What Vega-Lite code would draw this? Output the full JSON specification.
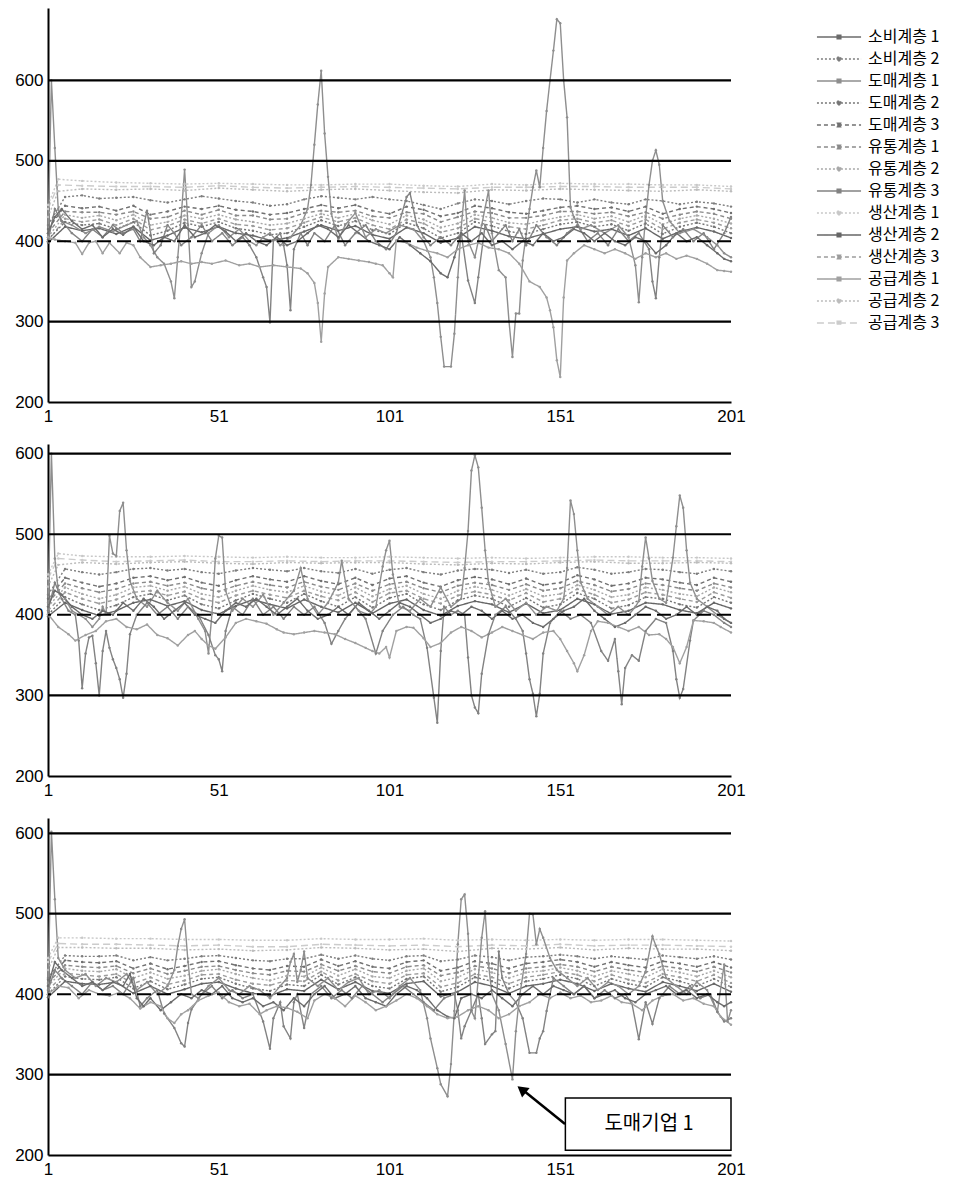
{
"$schema": "https://vega.github.io/schema/vega-lite/v6.json",
"padding": {"left": 14, "top": 8, "right": 5, "bottom": 5},
"background": "white",
"config": {
"font": "Liberation Sans",
"view": {"stroke": null},
"axis": {"domainColor": "#000", "domainWidth": 2, "ticks": false, "grid": false, "labelFont": "Liberation Sans", "labelFontSize": 17, "labelColor": "#000"},
"concat": {"spacing": 20}
},
"datasets": {
"names": [{"s":1,"n":"소비계층 1"},{"s":2,"n":"소비계층 2"},{"s":3,"n":"도매계층 1"},{"s":4,"n":"도매계층 2"},{"s":5,"n":"도매계층 3"},{"s":6,"n":"유통계층 1"},{"s":7,"n":"유통계층 2"},{"s":8,"n":"유통계층 3"},{"s":9,"n":"생산계층 1"},{"s":10,"n":"생산계층 2"},{"s":11,"n":"생산계층 3"},{"s":12,"n":"공급계층 1"},{"s":13,"n":"공급계층 2"},{"s":14,"n":"공급계층 3"}],
"solid": [{"v":300},{"v":500},{"v":600}],
"dash": [{"v":400}],
"box": [{"a":152.5,"b":201,"c":206,"d":271}],
"lab": [{"x":177,"y":238.5,"t":"도매기업 1"}],
"arr": [{"x":152.4,"y":238.5,"x2":140.6,"y2":279}],
"head": [{"x":139.7,"y":281.5}],
"p1": [
{"s":5,"x":1,"y":415},{"s":5,"x":6,"y":444},{"s":5,"x":11,"y":441},{"s":5,"x":16,"y":443},{"s":5,"x":21,"y":438},{"s":5,"x":26,"y":444},{"s":5,"x":31,"y":433},{"s":5,"x":36,"y":437},{"s":5,"x":41,"y":443},{"s":5,"x":46,"y":440},{"s":5,"x":51,"y":444},{"s":5,"x":56,"y":439},{"s":5,"x":61,"y":437},{"s":5,"x":66,"y":433},{"s":5,"x":71,"y":435},{"s":5,"x":76,"y":440},{"s":5,"x":81,"y":445},{"s":5,"x":86,"y":441},{"s":5,"x":91,"y":445},{"s":5,"x":96,"y":438},{"s":5,"x":101,"y":434},{"s":5,"x":106,"y":443},{"s":5,"x":111,"y":439},{"s":5,"x":116,"y":431},{"s":5,"x":121,"y":435},{"s":5,"x":126,"y":444},{"s":5,"x":131,"y":441},{"s":5,"x":136,"y":436},{"s":5,"x":141,"y":434},{"s":5,"x":146,"y":438},{"s":5,"x":151,"y":442},{"s":5,"x":156,"y":444},{"s":5,"x":161,"y":440},{"s":5,"x":166,"y":442},{"s":5,"x":171,"y":437},{"s":5,"x":176,"y":443},{"s":5,"x":181,"y":434},{"s":5,"x":186,"y":440},{"s":5,"x":191,"y":443},{"s":5,"x":196,"y":440},{"s":5,"x":201,"y":435},
{"s":6,"x":1,"y":410},{"s":6,"x":6,"y":437},{"s":6,"x":11,"y":436},{"s":6,"x":16,"y":436},{"s":6,"x":21,"y":433},{"s":6,"x":26,"y":437},{"s":6,"x":31,"y":428},{"s":6,"x":36,"y":430},{"s":6,"x":41,"y":438},{"s":6,"x":46,"y":433},{"s":6,"x":51,"y":439},{"s":6,"x":56,"y":432},{"s":6,"x":61,"y":432},{"s":6,"x":66,"y":427},{"s":6,"x":71,"y":428},{"s":6,"x":76,"y":435},{"s":6,"x":81,"y":438},{"s":6,"x":86,"y":436},{"s":6,"x":91,"y":438},{"s":6,"x":96,"y":431},{"s":6,"x":101,"y":429},{"s":6,"x":106,"y":436},{"s":6,"x":111,"y":434},{"s":6,"x":116,"y":424},{"s":6,"x":121,"y":430},{"s":6,"x":126,"y":437},{"s":6,"x":131,"y":435},{"s":6,"x":136,"y":429},{"s":6,"x":141,"y":429},{"s":6,"x":146,"y":432},{"s":6,"x":151,"y":437},{"s":6,"x":156,"y":437},{"s":6,"x":161,"y":434},{"s":6,"x":166,"y":436},{"s":6,"x":171,"y":431},{"s":6,"x":176,"y":436},{"s":6,"x":181,"y":428},{"s":6,"x":186,"y":433},{"s":6,"x":191,"y":437},{"s":6,"x":196,"y":434},{"s":6,"x":201,"y":428},
{"s":7,"x":1,"y":405},{"s":7,"x":6,"y":433},{"s":7,"x":11,"y":429},{"s":7,"x":16,"y":432},{"s":7,"x":21,"y":426},{"s":7,"x":26,"y":433},{"s":7,"x":31,"y":420},{"s":7,"x":36,"y":424},{"s":7,"x":41,"y":432},{"s":7,"x":46,"y":428},{"s":7,"x":51,"y":433},{"s":7,"x":56,"y":427},{"s":7,"x":61,"y":424},{"s":7,"x":66,"y":420},{"s":7,"x":71,"y":422},{"s":7,"x":76,"y":428},{"s":7,"x":81,"y":434},{"s":7,"x":86,"y":429},{"s":7,"x":91,"y":434},{"s":7,"x":96,"y":426},{"s":7,"x":101,"y":421},{"s":7,"x":106,"y":432},{"s":7,"x":111,"y":427},{"s":7,"x":116,"y":417},{"s":7,"x":121,"y":422},{"s":7,"x":126,"y":433},{"s":7,"x":131,"y":429},{"s":7,"x":136,"y":423},{"s":7,"x":141,"y":421},{"s":7,"x":146,"y":426},{"s":7,"x":151,"y":430},{"s":7,"x":156,"y":433},{"s":7,"x":161,"y":428},{"s":7,"x":166,"y":431},{"s":7,"x":171,"y":424},{"s":7,"x":176,"y":432},{"s":7,"x":181,"y":421},{"s":7,"x":186,"y":428},{"s":7,"x":191,"y":432},{"s":7,"x":196,"y":428},{"s":7,"x":201,"y":422},
{"s":11,"x":1,"y":400},{"s":11,"x":6,"y":428},{"s":11,"x":11,"y":424},{"s":11,"x":16,"y":427},{"s":11,"x":21,"y":420},{"s":11,"x":26,"y":428},{"s":11,"x":31,"y":414},{"s":11,"x":36,"y":419},{"s":11,"x":41,"y":427},{"s":11,"x":46,"y":422},{"s":11,"x":51,"y":428},{"s":11,"x":56,"y":421},{"s":11,"x":61,"y":419},{"s":11,"x":66,"y":414},{"s":11,"x":71,"y":416},{"s":11,"x":76,"y":423},{"s":11,"x":81,"y":430},{"s":11,"x":86,"y":424},{"s":11,"x":91,"y":429},{"s":11,"x":96,"y":420},{"s":11,"x":101,"y":415},{"s":11,"x":106,"y":427},{"s":11,"x":111,"y":422},{"s":11,"x":116,"y":411},{"s":11,"x":121,"y":416},{"s":11,"x":126,"y":428},{"s":11,"x":131,"y":424},{"s":11,"x":136,"y":418},{"s":11,"x":141,"y":415},{"s":11,"x":146,"y":420},{"s":11,"x":151,"y":426},{"s":11,"x":156,"y":428},{"s":11,"x":161,"y":423},{"s":11,"x":166,"y":426},{"s":11,"x":171,"y":419},{"s":11,"x":176,"y":427},{"s":11,"x":181,"y":415},{"s":11,"x":186,"y":423},{"s":11,"x":191,"y":427},{"s":11,"x":196,"y":423},{"s":11,"x":201,"y":416},
{"s":4,"x":1,"y":402},{"s":4,"x":6,"y":424},{"s":4,"x":11,"y":420},{"s":4,"x":16,"y":422},{"s":4,"x":21,"y":415},{"s":4,"x":26,"y":424},{"s":4,"x":31,"y":407},{"s":4,"x":36,"y":413},{"s":4,"x":41,"y":423},{"s":4,"x":46,"y":418},{"s":4,"x":51,"y":424},{"s":4,"x":56,"y":416},{"s":4,"x":61,"y":413},{"s":4,"x":66,"y":408},{"s":4,"x":71,"y":410},{"s":4,"x":76,"y":418},{"s":4,"x":81,"y":426},{"s":4,"x":86,"y":419},{"s":4,"x":91,"y":425},{"s":4,"x":96,"y":414},{"s":4,"x":101,"y":409},{"s":4,"x":106,"y":423},{"s":4,"x":111,"y":416},{"s":4,"x":116,"y":404},{"s":4,"x":121,"y":410},{"s":4,"x":126,"y":424},{"s":4,"x":131,"y":419},{"s":4,"x":136,"y":412},{"s":4,"x":141,"y":409},{"s":4,"x":146,"y":415},{"s":4,"x":151,"y":421},{"s":4,"x":156,"y":424},{"s":4,"x":161,"y":418},{"s":4,"x":166,"y":421},{"s":4,"x":171,"y":413},{"s":4,"x":176,"y":422},{"s":4,"x":181,"y":409},{"s":4,"x":186,"y":418},{"s":4,"x":191,"y":423},{"s":4,"x":196,"y":418},{"s":4,"x":201,"y":410},
{"s":10,"x":1,"y":398},{"s":10,"x":6,"y":418},{"s":10,"x":11,"y":413},{"s":10,"x":16,"y":416},{"s":10,"x":21,"y":409},{"s":10,"x":26,"y":418},{"s":10,"x":31,"y":401},{"s":10,"x":36,"y":407},{"s":10,"x":41,"y":417},{"s":10,"x":46,"y":411},{"s":10,"x":51,"y":418},{"s":10,"x":56,"y":410},{"s":10,"x":61,"y":407},{"s":10,"x":66,"y":401},{"s":10,"x":71,"y":404},{"s":10,"x":76,"y":412},{"s":10,"x":81,"y":420},{"s":10,"x":86,"y":413},{"s":10,"x":91,"y":419},{"s":10,"x":96,"y":408},{"s":10,"x":101,"y":403},{"s":10,"x":106,"y":417},{"s":10,"x":111,"y":410},{"s":10,"x":116,"y":398},{"s":10,"x":121,"y":404},{"s":10,"x":126,"y":418},{"s":10,"x":131,"y":413},{"s":10,"x":136,"y":406},{"s":10,"x":141,"y":403},{"s":10,"x":146,"y":409},{"s":10,"x":151,"y":415},{"s":10,"x":156,"y":418},{"s":10,"x":161,"y":412},{"s":10,"x":166,"y":415},{"s":10,"x":171,"y":407},{"s":10,"x":176,"y":416},{"s":10,"x":181,"y":403},{"s":10,"x":186,"y":412},{"s":10,"x":191,"y":417},{"s":10,"x":196,"y":412},{"s":10,"x":201,"y":404},
{"s":2,"x":1,"y":420},{"s":2,"x":6,"y":455},{"s":2,"x":11,"y":457},{"s":2,"x":16,"y":453},{"s":2,"x":21,"y":454},{"s":2,"x":26,"y":455},{"s":2,"x":31,"y":451},{"s":2,"x":36,"y":448},{"s":2,"x":41,"y":452},{"s":2,"x":46,"y":456},{"s":2,"x":51,"y":453},{"s":2,"x":56,"y":450},{"s":2,"x":61,"y":448},{"s":2,"x":66,"y":444},{"s":2,"x":71,"y":446},{"s":2,"x":76,"y":452},{"s":2,"x":81,"y":456},{"s":2,"x":86,"y":454},{"s":2,"x":91,"y":452},{"s":2,"x":96,"y":455},{"s":2,"x":101,"y":452},{"s":2,"x":106,"y":450},{"s":2,"x":111,"y":445},{"s":2,"x":116,"y":440},{"s":2,"x":121,"y":447},{"s":2,"x":126,"y":452},{"s":2,"x":131,"y":450},{"s":2,"x":136,"y":446},{"s":2,"x":141,"y":450},{"s":2,"x":146,"y":453},{"s":2,"x":151,"y":452},{"s":2,"x":156,"y":448},{"s":2,"x":161,"y":452},{"s":2,"x":166,"y":448},{"s":2,"x":171,"y":446},{"s":2,"x":176,"y":452},{"s":2,"x":181,"y":450},{"s":2,"x":186,"y":446},{"s":2,"x":191,"y":449},{"s":2,"x":196,"y":447},{"s":2,"x":201,"y":443},
{"s":9,"x":1,"y":445},{"s":9,"x":4,"y":477},{"s":9,"x":11,"y":475},{"s":9,"x":21,"y":473},{"s":9,"x":31,"y":472},{"s":9,"x":41,"y":471},{"s":9,"x":51,"y":472},{"s":9,"x":61,"y":471},{"s":9,"x":71,"y":470},{"s":9,"x":81,"y":470},{"s":9,"x":91,"y":471},{"s":9,"x":101,"y":471},{"s":9,"x":111,"y":469},{"s":9,"x":121,"y":468},{"s":9,"x":131,"y":471},{"s":9,"x":141,"y":470},{"s":9,"x":151,"y":472},{"s":9,"x":161,"y":471},{"s":9,"x":171,"y":471},{"s":9,"x":181,"y":470},{"s":9,"x":191,"y":470},{"s":9,"x":201,"y":468},
{"s":14,"x":1,"y":440},{"s":14,"x":4,"y":470},{"s":14,"x":11,"y":469},{"s":14,"x":21,"y":468},{"s":14,"x":31,"y":468},{"s":14,"x":41,"y":467},{"s":14,"x":51,"y":469},{"s":14,"x":61,"y":467},{"s":14,"x":71,"y":466},{"s":14,"x":81,"y":467},{"s":14,"x":91,"y":468},{"s":14,"x":101,"y":467},{"s":14,"x":111,"y":466},{"s":14,"x":121,"y":465},{"s":14,"x":131,"y":467},{"s":14,"x":141,"y":467},{"s":14,"x":151,"y":468},{"s":14,"x":161,"y":468},{"s":14,"x":171,"y":467},{"s":14,"x":181,"y":467},{"s":14,"x":191,"y":467},{"s":14,"x":201,"y":465},
{"s":13,"x":1,"y":430},{"s":13,"x":4,"y":462},{"s":13,"x":11,"y":465},{"s":13,"x":21,"y":464},{"s":13,"x":31,"y":465},{"s":13,"x":41,"y":463},{"s":13,"x":51,"y":466},{"s":13,"x":61,"y":464},{"s":13,"x":71,"y":462},{"s":13,"x":81,"y":464},{"s":13,"x":91,"y":465},{"s":13,"x":101,"y":463},{"s":13,"x":111,"y":461},{"s":13,"x":121,"y":460},{"s":13,"x":131,"y":464},{"s":13,"x":141,"y":463},{"s":13,"x":151,"y":465},{"s":13,"x":161,"y":464},{"s":13,"x":171,"y":463},{"s":13,"x":181,"y":462},{"s":13,"x":191,"y":464},{"s":13,"x":201,"y":462},
{"s":3,"x":1,"y":400},{"s":3,"x":2,"y":600},{"s":3,"x":3,"y":516},{"s":3,"x":4,"y":440},{"s":3,"x":5,"y":425},{"s":3,"x":8,"y":420},{"s":3,"x":12,"y":410},{"s":3,"x":16,"y":418},{"s":3,"x":20,"y":412},{"s":3,"x":24,"y":420},{"s":3,"x":27,"y":425},{"s":3,"x":29,"y":405},{"s":3,"x":31,"y":395},{"s":3,"x":33,"y":380},{"s":3,"x":35,"y":372},{"s":3,"x":37,"y":350},{"s":3,"x":38,"y":329},{"s":3,"x":39,"y":380},{"s":3,"x":40,"y":430},{"s":3,"x":41,"y":489},{"s":3,"x":42,"y":420},{"s":3,"x":43,"y":343},{"s":3,"x":44,"y":350},{"s":3,"x":46,"y":385},{"s":3,"x":48,"y":410},{"s":3,"x":51,"y":420},{"s":3,"x":54,"y":405},{"s":3,"x":57,"y":415},{"s":3,"x":60,"y":400},{"s":3,"x":62,"y":395},{"s":3,"x":64,"y":405},{"s":3,"x":66,"y":410},{"s":3,"x":69,"y":395},{"s":3,"x":72,"y":405},{"s":3,"x":75,"y":420},{"s":3,"x":77,"y":440},{"s":3,"x":78,"y":470},{"s":3,"x":79,"y":520},{"s":3,"x":80,"y":570},{"s":3,"x":81,"y":612},{"s":3,"x":82,"y":534},{"s":3,"x":83,"y":480},{"s":3,"x":84,"y":434},{"s":3,"x":86,"y":401},{"s":3,"x":88,"y":420},{"s":3,"x":91,"y":435},{"s":3,"x":94,"y":405},{"s":3,"x":97,"y":415},{"s":3,"x":100,"y":410},{"s":3,"x":104,"y":420},{"s":3,"x":108,"y":415},{"s":3,"x":111,"y":400},{"s":3,"x":113,"y":380},{"s":3,"x":114,"y":355},{"s":3,"x":115,"y":323},{"s":3,"x":116,"y":281},{"s":3,"x":117,"y":244},{"s":3,"x":119,"y":244},{"s":3,"x":120,"y":285},{"s":3,"x":121,"y":355},{"s":3,"x":122,"y":417},{"s":3,"x":123,"y":463},{"s":3,"x":124,"y":400},{"s":3,"x":126,"y":380},{"s":3,"x":128,"y":420},{"s":3,"x":130,"y":463},{"s":3,"x":131,"y":410},{"s":3,"x":133,"y":364},{"s":3,"x":135,"y":355},{"s":3,"x":136,"y":300},{"s":3,"x":137,"y":256},{"s":3,"x":138,"y":310},{"s":3,"x":139,"y":310},{"s":3,"x":140,"y":376},{"s":3,"x":142,"y":440},{"s":3,"x":143,"y":467},{"s":3,"x":144,"y":488},{"s":3,"x":145,"y":467},{"s":3,"x":146,"y":516},{"s":3,"x":147,"y":562},{"s":3,"x":148,"y":600},{"s":3,"x":149,"y":637},{"s":3,"x":150,"y":676},{"s":3,"x":151,"y":671},{"s":3,"x":152,"y":600},{"s":3,"x":153,"y":554},{"s":3,"x":154,"y":442},{"s":3,"x":155,"y":430},{"s":3,"x":157,"y":415},{"s":3,"x":160,"y":420},{"s":3,"x":164,"y":410},{"s":3,"x":168,"y":420},{"s":3,"x":171,"y":405},{"s":3,"x":173,"y":370},{"s":3,"x":174,"y":324},{"s":3,"x":175,"y":380},{"s":3,"x":176,"y":430},{"s":3,"x":177,"y":470},{"s":3,"x":178,"y":500},{"s":3,"x":179,"y":513},{"s":3,"x":180,"y":495},{"s":3,"x":181,"y":450},{"s":3,"x":183,"y":425},{"s":3,"x":186,"y":410},{"s":3,"x":190,"y":415},{"s":3,"x":194,"y":405},{"s":3,"x":197,"y":395},{"s":3,"x":199,"y":385},{"s":3,"x":201,"y":380},
{"s":8,"x":1,"y":400},{"s":8,"x":3,"y":440},{"s":8,"x":5,"y":425},{"s":8,"x":8,"y":410},{"s":8,"x":11,"y":400},{"s":8,"x":14,"y":415},{"s":8,"x":17,"y":405},{"s":8,"x":20,"y":420},{"s":8,"x":23,"y":410},{"s":8,"x":26,"y":415},{"s":8,"x":28,"y":400},{"s":8,"x":30,"y":438},{"s":8,"x":32,"y":385},{"s":8,"x":34,"y":395},{"s":8,"x":36,"y":420},{"s":8,"x":38,"y":410},{"s":8,"x":40,"y":395},{"s":8,"x":43,"y":405},{"s":8,"x":46,"y":420},{"s":8,"x":49,"y":400},{"s":8,"x":52,"y":410},{"s":8,"x":55,"y":395},{"s":8,"x":58,"y":405},{"s":8,"x":60,"y":395},{"s":8,"x":62,"y":380},{"s":8,"x":64,"y":355},{"s":8,"x":65,"y":343},{"s":8,"x":66,"y":299},{"s":8,"x":67,"y":401},{"s":8,"x":69,"y":410},{"s":8,"x":70,"y":395},{"s":8,"x":71,"y":370},{"s":8,"x":72,"y":314},{"s":8,"x":73,"y":390},{"s":8,"x":75,"y":410},{"s":8,"x":77,"y":395},{"s":8,"x":79,"y":410},{"s":8,"x":82,"y":400},{"s":8,"x":85,"y":420},{"s":8,"x":88,"y":395},{"s":8,"x":91,"y":410},{"s":8,"x":94,"y":420},{"s":8,"x":97,"y":400},{"s":8,"x":100,"y":390},{"s":8,"x":103,"y":410},{"s":8,"x":106,"y":455},{"s":8,"x":107,"y":460},{"s":8,"x":109,"y":420},{"s":8,"x":111,"y":405},{"s":8,"x":113,"y":395},{"s":8,"x":116,"y":405},{"s":8,"x":119,"y":395},{"s":8,"x":122,"y":410},{"s":8,"x":124,"y":351},{"s":8,"x":126,"y":323},{"s":8,"x":127,"y":355},{"s":8,"x":129,"y":420},{"s":8,"x":131,"y":400},{"s":8,"x":133,"y":410},{"s":8,"x":135,"y":420},{"s":8,"x":137,"y":400},{"s":8,"x":139,"y":415},{"s":8,"x":141,"y":395},{"s":8,"x":144,"y":420},{"s":8,"x":147,"y":405},{"s":8,"x":150,"y":395},{"s":8,"x":153,"y":410},{"s":8,"x":156,"y":420},{"s":8,"x":159,"y":400},{"s":8,"x":162,"y":410},{"s":8,"x":165,"y":395},{"s":8,"x":168,"y":415},{"s":8,"x":171,"y":400},{"s":8,"x":174,"y":410},{"s":8,"x":177,"y":390},{"s":8,"x":178,"y":350},{"s":8,"x":179,"y":329},{"s":8,"x":180,"y":380},{"s":8,"x":181,"y":420},{"s":8,"x":184,"y":405},{"s":8,"x":187,"y":415},{"s":8,"x":190,"y":400},{"s":8,"x":193,"y":410},{"s":8,"x":196,"y":390},{"s":8,"x":199,"y":410},{"s":8,"x":201,"y":430},
{"s":1,"x":1,"y":410},{"s":1,"x":3,"y":430},{"s":1,"x":5,"y":440},{"s":1,"x":8,"y":425},{"s":1,"x":11,"y":415},{"s":1,"x":14,"y":420},{"s":1,"x":17,"y":405},{"s":1,"x":20,"y":415},{"s":1,"x":23,"y":408},{"s":1,"x":26,"y":418},{"s":1,"x":29,"y":400},{"s":1,"x":32,"y":395},{"s":1,"x":35,"y":405},{"s":1,"x":38,"y":400},{"s":1,"x":41,"y":420},{"s":1,"x":44,"y":405},{"s":1,"x":47,"y":410},{"s":1,"x":50,"y":420},{"s":1,"x":53,"y":412},{"s":1,"x":56,"y":400},{"s":1,"x":59,"y":410},{"s":1,"x":62,"y":400},{"s":1,"x":65,"y":395},{"s":1,"x":68,"y":405},{"s":1,"x":71,"y":395},{"s":1,"x":74,"y":400},{"s":1,"x":77,"y":410},{"s":1,"x":80,"y":420},{"s":1,"x":83,"y":415},{"s":1,"x":86,"y":405},{"s":1,"x":89,"y":420},{"s":1,"x":92,"y":410},{"s":1,"x":95,"y":400},{"s":1,"x":98,"y":395},{"s":1,"x":101,"y":390},{"s":1,"x":104,"y":405},{"s":1,"x":107,"y":395},{"s":1,"x":110,"y":385},{"s":1,"x":113,"y":375},{"s":1,"x":116,"y":360},{"s":1,"x":118,"y":355},{"s":1,"x":120,"y":380},{"s":1,"x":122,"y":410},{"s":1,"x":125,"y":400},{"s":1,"x":128,"y":410},{"s":1,"x":131,"y":395},{"s":1,"x":134,"y":400},{"s":1,"x":137,"y":390},{"s":1,"x":140,"y":400},{"s":1,"x":143,"y":395},{"s":1,"x":146,"y":410},{"s":1,"x":149,"y":400},{"s":1,"x":152,"y":405},{"s":1,"x":155,"y":415},{"s":1,"x":158,"y":410},{"s":1,"x":161,"y":400},{"s":1,"x":164,"y":410},{"s":1,"x":167,"y":400},{"s":1,"x":170,"y":395},{"s":1,"x":173,"y":405},{"s":1,"x":176,"y":400},{"s":1,"x":179,"y":385},{"s":1,"x":182,"y":395},{"s":1,"x":185,"y":410},{"s":1,"x":188,"y":400},{"s":1,"x":191,"y":405},{"s":1,"x":194,"y":395},{"s":1,"x":197,"y":385},{"s":1,"x":199,"y":378},{"s":1,"x":201,"y":375},
{"s":12,"x":1,"y":405},{"s":12,"x":3,"y":402},{"s":12,"x":6,"y":400},{"s":12,"x":9,"y":398},{"s":12,"x":11,"y":384},{"s":12,"x":13,"y":398},{"s":12,"x":15,"y":400},{"s":12,"x":17,"y":385},{"s":12,"x":19,"y":398},{"s":12,"x":22,"y":385},{"s":12,"x":24,"y":398},{"s":12,"x":26,"y":395},{"s":12,"x":28,"y":380},{"s":12,"x":31,"y":368},{"s":12,"x":34,"y":370},{"s":12,"x":37,"y":372},{"s":12,"x":40,"y":375},{"s":12,"x":43,"y":372},{"s":12,"x":46,"y":374},{"s":12,"x":49,"y":372},{"s":12,"x":53,"y":376},{"s":12,"x":57,"y":370},{"s":12,"x":60,"y":372},{"s":12,"x":63,"y":368},{"s":12,"x":67,"y":370},{"s":12,"x":71,"y":368},{"s":12,"x":75,"y":366},{"s":12,"x":77,"y":360},{"s":12,"x":79,"y":348},{"s":12,"x":80,"y":323},{"s":12,"x":81,"y":275},{"s":12,"x":82,"y":335},{"s":12,"x":83,"y":368},{"s":12,"x":86,"y":380},{"s":12,"x":89,"y":378},{"s":12,"x":92,"y":376},{"s":12,"x":95,"y":374},{"s":12,"x":97,"y":372},{"s":12,"x":99,"y":370},{"s":12,"x":101,"y":360},{"s":12,"x":102,"y":355},{"s":12,"x":103,"y":401},{"s":12,"x":106,"y":398},{"s":12,"x":109,"y":392},{"s":12,"x":112,"y":388},{"s":12,"x":115,"y":385},{"s":12,"x":118,"y":380},{"s":12,"x":121,"y":390},{"s":12,"x":124,"y":395},{"s":12,"x":127,"y":398},{"s":12,"x":130,"y":392},{"s":12,"x":133,"y":390},{"s":12,"x":136,"y":385},{"s":12,"x":139,"y":372},{"s":12,"x":142,"y":350},{"s":12,"x":145,"y":343},{"s":12,"x":147,"y":330},{"s":12,"x":148,"y":314},{"s":12,"x":149,"y":293},{"s":12,"x":150,"y":252},{"s":12,"x":151,"y":231},{"s":12,"x":152,"y":330},{"s":12,"x":153,"y":376},{"s":12,"x":155,"y":385},{"s":12,"x":158,"y":395},{"s":12,"x":161,"y":390},{"s":12,"x":164,"y":385},{"s":12,"x":167,"y":390},{"s":12,"x":170,"y":385},{"s":12,"x":173,"y":378},{"s":12,"x":176,"y":385},{"s":12,"x":179,"y":380},{"s":12,"x":182,"y":385},{"s":12,"x":185,"y":378},{"s":12,"x":188,"y":382},{"s":12,"x":191,"y":378},{"s":12,"x":194,"y":372},{"s":12,"x":197,"y":364},{"s":12,"x":199,"y":363},{"s":12,"x":201,"y":362}
],
"p2": [
{"s":5,"x":1,"y":420},{"s":5,"x":6,"y":446},{"s":5,"x":11,"y":440},{"s":5,"x":16,"y":435},{"s":5,"x":21,"y":439},{"s":5,"x":26,"y":446},{"s":5,"x":31,"y":448},{"s":5,"x":36,"y":443},{"s":5,"x":41,"y":447},{"s":5,"x":46,"y":440},{"s":5,"x":51,"y":436},{"s":5,"x":56,"y":443},{"s":5,"x":61,"y":448},{"s":5,"x":66,"y":444},{"s":5,"x":71,"y":441},{"s":5,"x":76,"y":448},{"s":5,"x":81,"y":442},{"s":5,"x":86,"y":438},{"s":5,"x":91,"y":446},{"s":5,"x":96,"y":437},{"s":5,"x":101,"y":445},{"s":5,"x":106,"y":448},{"s":5,"x":111,"y":440},{"s":5,"x":116,"y":435},{"s":5,"x":121,"y":443},{"s":5,"x":126,"y":447},{"s":5,"x":131,"y":444},{"s":5,"x":136,"y":438},{"s":5,"x":141,"y":445},{"s":5,"x":146,"y":437},{"s":5,"x":151,"y":440},{"s":5,"x":156,"y":449},{"s":5,"x":161,"y":444},{"s":5,"x":166,"y":436},{"s":5,"x":171,"y":439},{"s":5,"x":176,"y":446},{"s":5,"x":181,"y":444},{"s":5,"x":186,"y":440},{"s":5,"x":191,"y":437},{"s":5,"x":196,"y":446},{"s":5,"x":201,"y":441},
{"s":6,"x":1,"y":415},{"s":6,"x":6,"y":439},{"s":6,"x":11,"y":433},{"s":6,"x":16,"y":428},{"s":6,"x":21,"y":432},{"s":6,"x":26,"y":439},{"s":6,"x":31,"y":441},{"s":6,"x":36,"y":436},{"s":6,"x":41,"y":440},{"s":6,"x":46,"y":433},{"s":6,"x":51,"y":429},{"s":6,"x":56,"y":436},{"s":6,"x":61,"y":441},{"s":6,"x":66,"y":437},{"s":6,"x":71,"y":434},{"s":6,"x":76,"y":441},{"s":6,"x":81,"y":435},{"s":6,"x":86,"y":431},{"s":6,"x":91,"y":439},{"s":6,"x":96,"y":430},{"s":6,"x":101,"y":438},{"s":6,"x":106,"y":441},{"s":6,"x":111,"y":433},{"s":6,"x":116,"y":428},{"s":6,"x":121,"y":436},{"s":6,"x":126,"y":440},{"s":6,"x":131,"y":437},{"s":6,"x":136,"y":431},{"s":6,"x":141,"y":438},{"s":6,"x":146,"y":430},{"s":6,"x":151,"y":433},{"s":6,"x":156,"y":442},{"s":6,"x":161,"y":437},{"s":6,"x":166,"y":429},{"s":6,"x":171,"y":432},{"s":6,"x":176,"y":439},{"s":6,"x":181,"y":437},{"s":6,"x":186,"y":433},{"s":6,"x":191,"y":430},{"s":6,"x":196,"y":439},{"s":6,"x":201,"y":434},
{"s":7,"x":1,"y":410},{"s":7,"x":6,"y":434},{"s":7,"x":11,"y":426},{"s":7,"x":16,"y":420},{"s":7,"x":21,"y":425},{"s":7,"x":26,"y":434},{"s":7,"x":31,"y":436},{"s":7,"x":36,"y":430},{"s":7,"x":41,"y":435},{"s":7,"x":46,"y":426},{"s":7,"x":51,"y":422},{"s":7,"x":56,"y":430},{"s":7,"x":61,"y":436},{"s":7,"x":66,"y":431},{"s":7,"x":71,"y":428},{"s":7,"x":76,"y":436},{"s":7,"x":81,"y":429},{"s":7,"x":86,"y":424},{"s":7,"x":91,"y":434},{"s":7,"x":96,"y":423},{"s":7,"x":101,"y":432},{"s":7,"x":106,"y":436},{"s":7,"x":111,"y":426},{"s":7,"x":116,"y":420},{"s":7,"x":121,"y":430},{"s":7,"x":126,"y":435},{"s":7,"x":131,"y":431},{"s":7,"x":136,"y":424},{"s":7,"x":141,"y":432},{"s":7,"x":146,"y":423},{"s":7,"x":151,"y":426},{"s":7,"x":156,"y":437},{"s":7,"x":161,"y":431},{"s":7,"x":166,"y":422},{"s":7,"x":171,"y":425},{"s":7,"x":176,"y":434},{"s":7,"x":181,"y":431},{"s":7,"x":186,"y":426},{"s":7,"x":191,"y":423},{"s":7,"x":196,"y":434},{"s":7,"x":201,"y":428},
{"s":11,"x":1,"y":405},{"s":11,"x":6,"y":428},{"s":11,"x":11,"y":420},{"s":11,"x":16,"y":414},{"s":11,"x":21,"y":419},{"s":11,"x":26,"y":428},{"s":11,"x":31,"y":430},{"s":11,"x":36,"y":424},{"s":11,"x":41,"y":429},{"s":11,"x":46,"y":420},{"s":11,"x":51,"y":415},{"s":11,"x":56,"y":424},{"s":11,"x":61,"y":430},{"s":11,"x":66,"y":425},{"s":11,"x":71,"y":421},{"s":11,"x":76,"y":430},{"s":11,"x":81,"y":423},{"s":11,"x":86,"y":418},{"s":11,"x":91,"y":428},{"s":11,"x":96,"y":416},{"s":11,"x":101,"y":427},{"s":11,"x":106,"y":430},{"s":11,"x":111,"y":420},{"s":11,"x":116,"y":414},{"s":11,"x":121,"y":424},{"s":11,"x":126,"y":429},{"s":11,"x":131,"y":425},{"s":11,"x":136,"y":418},{"s":11,"x":141,"y":427},{"s":11,"x":146,"y":416},{"s":11,"x":151,"y":420},{"s":11,"x":156,"y":432},{"s":11,"x":161,"y":425},{"s":11,"x":166,"y":415},{"s":11,"x":171,"y":419},{"s":11,"x":176,"y":428},{"s":11,"x":181,"y":425},{"s":11,"x":186,"y":420},{"s":11,"x":191,"y":416},{"s":11,"x":196,"y":428},{"s":11,"x":201,"y":421},
{"s":4,"x":1,"y":400},{"s":4,"x":6,"y":422},{"s":4,"x":11,"y":413},{"s":4,"x":16,"y":406},{"s":4,"x":21,"y":412},{"s":4,"x":26,"y":422},{"s":4,"x":31,"y":426},{"s":4,"x":36,"y":418},{"s":4,"x":41,"y":424},{"s":4,"x":46,"y":413},{"s":4,"x":51,"y":408},{"s":4,"x":56,"y":418},{"s":4,"x":61,"y":426},{"s":4,"x":66,"y":420},{"s":4,"x":71,"y":415},{"s":4,"x":76,"y":426},{"s":4,"x":81,"y":417},{"s":4,"x":86,"y":410},{"s":4,"x":91,"y":422},{"s":4,"x":96,"y":409},{"s":4,"x":101,"y":421},{"s":4,"x":106,"y":426},{"s":4,"x":111,"y":413},{"s":4,"x":116,"y":406},{"s":4,"x":121,"y":418},{"s":4,"x":126,"y":424},{"s":4,"x":131,"y":420},{"s":4,"x":136,"y":410},{"s":4,"x":141,"y":421},{"s":4,"x":146,"y":409},{"s":4,"x":151,"y":413},{"s":4,"x":156,"y":427},{"s":4,"x":161,"y":420},{"s":4,"x":166,"y":408},{"s":4,"x":171,"y":412},{"s":4,"x":176,"y":422},{"s":4,"x":181,"y":420},{"s":4,"x":186,"y":413},{"s":4,"x":191,"y":409},{"s":4,"x":196,"y":422},{"s":4,"x":201,"y":415},
{"s":10,"x":1,"y":398},{"s":10,"x":6,"y":415},{"s":10,"x":11,"y":406},{"s":10,"x":16,"y":399},{"s":10,"x":21,"y":405},{"s":10,"x":26,"y":415},{"s":10,"x":31,"y":419},{"s":10,"x":36,"y":411},{"s":10,"x":41,"y":417},{"s":10,"x":46,"y":406},{"s":10,"x":51,"y":401},{"s":10,"x":56,"y":411},{"s":10,"x":61,"y":419},{"s":10,"x":66,"y":413},{"s":10,"x":71,"y":408},{"s":10,"x":76,"y":419},{"s":10,"x":81,"y":410},{"s":10,"x":86,"y":403},{"s":10,"x":91,"y":415},{"s":10,"x":96,"y":402},{"s":10,"x":101,"y":414},{"s":10,"x":106,"y":419},{"s":10,"x":111,"y":406},{"s":10,"x":116,"y":399},{"s":10,"x":121,"y":411},{"s":10,"x":126,"y":417},{"s":10,"x":131,"y":413},{"s":10,"x":136,"y":403},{"s":10,"x":141,"y":414},{"s":10,"x":146,"y":402},{"s":10,"x":151,"y":406},{"s":10,"x":156,"y":420},{"s":10,"x":161,"y":413},{"s":10,"x":166,"y":401},{"s":10,"x":171,"y":405},{"s":10,"x":176,"y":415},{"s":10,"x":181,"y":413},{"s":10,"x":186,"y":406},{"s":10,"x":191,"y":402},{"s":10,"x":196,"y":415},{"s":10,"x":201,"y":408},
{"s":2,"x":1,"y":425},{"s":2,"x":6,"y":457},{"s":2,"x":11,"y":453},{"s":2,"x":16,"y":450},{"s":2,"x":21,"y":453},{"s":2,"x":26,"y":457},{"s":2,"x":31,"y":458},{"s":2,"x":36,"y":455},{"s":2,"x":41,"y":457},{"s":2,"x":46,"y":453},{"s":2,"x":51,"y":451},{"s":2,"x":56,"y":455},{"s":2,"x":61,"y":458},{"s":2,"x":66,"y":456},{"s":2,"x":71,"y":454},{"s":2,"x":76,"y":458},{"s":2,"x":81,"y":454},{"s":2,"x":86,"y":452},{"s":2,"x":91,"y":457},{"s":2,"x":96,"y":451},{"s":2,"x":101,"y":456},{"s":2,"x":106,"y":458},{"s":2,"x":111,"y":453},{"s":2,"x":116,"y":450},{"s":2,"x":121,"y":455},{"s":2,"x":126,"y":457},{"s":2,"x":131,"y":456},{"s":2,"x":136,"y":452},{"s":2,"x":141,"y":456},{"s":2,"x":146,"y":451},{"s":2,"x":151,"y":453},{"s":2,"x":156,"y":459},{"s":2,"x":161,"y":456},{"s":2,"x":166,"y":451},{"s":2,"x":171,"y":453},{"s":2,"x":176,"y":457},{"s":2,"x":181,"y":456},{"s":2,"x":186,"y":453},{"s":2,"x":191,"y":451},{"s":2,"x":196,"y":457},{"s":2,"x":201,"y":454},
{"s":9,"x":1,"y":450},{"s":9,"x":4,"y":476},{"s":9,"x":11,"y":473},{"s":9,"x":21,"y":472},{"s":9,"x":31,"y":472},{"s":9,"x":41,"y":473},{"s":9,"x":51,"y":472},{"s":9,"x":61,"y":471},{"s":9,"x":71,"y":472},{"s":9,"x":81,"y":471},{"s":9,"x":91,"y":471},{"s":9,"x":101,"y":472},{"s":9,"x":111,"y":471},{"s":9,"x":121,"y":470},{"s":9,"x":131,"y":471},{"s":9,"x":141,"y":470},{"s":9,"x":151,"y":471},{"s":9,"x":161,"y":472},{"s":9,"x":171,"y":472},{"s":9,"x":181,"y":471},{"s":9,"x":191,"y":471},{"s":9,"x":201,"y":470},
{"s":14,"x":1,"y":445},{"s":14,"x":4,"y":470},{"s":14,"x":11,"y":468},{"s":14,"x":21,"y":466},{"s":14,"x":31,"y":467},{"s":14,"x":41,"y":468},{"s":14,"x":51,"y":466},{"s":14,"x":61,"y":466},{"s":14,"x":71,"y":467},{"s":14,"x":81,"y":466},{"s":14,"x":91,"y":467},{"s":14,"x":101,"y":467},{"s":14,"x":111,"y":466},{"s":14,"x":121,"y":465},{"s":14,"x":131,"y":466},{"s":14,"x":141,"y":466},{"s":14,"x":151,"y":467},{"s":14,"x":161,"y":468},{"s":14,"x":171,"y":467},{"s":14,"x":181,"y":467},{"s":14,"x":191,"y":467},{"s":14,"x":201,"y":466},
{"s":13,"x":1,"y":435},{"s":13,"x":4,"y":462},{"s":13,"x":11,"y":465},{"s":13,"x":21,"y":463},{"s":13,"x":31,"y":465},{"s":13,"x":41,"y":466},{"s":13,"x":51,"y":464},{"s":13,"x":61,"y":463},{"s":13,"x":71,"y":465},{"s":13,"x":81,"y":464},{"s":13,"x":91,"y":465},{"s":13,"x":101,"y":465},{"s":13,"x":111,"y":463},{"s":13,"x":121,"y":462},{"s":13,"x":131,"y":464},{"s":13,"x":141,"y":463},{"s":13,"x":151,"y":465},{"s":13,"x":161,"y":466},{"s":13,"x":171,"y":464},{"s":13,"x":181,"y":464},{"s":13,"x":191,"y":465},{"s":13,"x":201,"y":464},
{"s":3,"x":1,"y":400},{"s":3,"x":2,"y":600},{"s":3,"x":3,"y":470},{"s":3,"x":4,"y":430},{"s":3,"x":6,"y":420},{"s":3,"x":8,"y":405},{"s":3,"x":10,"y":400},{"s":3,"x":12,"y":395},{"s":3,"x":14,"y":385},{"s":3,"x":16,"y":395},{"s":3,"x":17,"y":410},{"s":3,"x":18,"y":401},{"s":3,"x":19,"y":498},{"s":3,"x":20,"y":476},{"s":3,"x":21,"y":473},{"s":3,"x":22,"y":529},{"s":3,"x":23,"y":539},{"s":3,"x":24,"y":480},{"s":3,"x":25,"y":442},{"s":3,"x":27,"y":420},{"s":3,"x":30,"y":410},{"s":3,"x":33,"y":430},{"s":3,"x":36,"y":415},{"s":3,"x":39,"y":405},{"s":3,"x":42,"y":420},{"s":3,"x":45,"y":395},{"s":3,"x":47,"y":380},{"s":3,"x":48,"y":352},{"s":3,"x":49,"y":401},{"s":3,"x":50,"y":470},{"s":3,"x":51,"y":498},{"s":3,"x":52,"y":496},{"s":3,"x":53,"y":430},{"s":3,"x":55,"y":405},{"s":3,"x":58,"y":420},{"s":3,"x":61,"y":410},{"s":3,"x":64,"y":425},{"s":3,"x":67,"y":400},{"s":3,"x":70,"y":415},{"s":3,"x":73,"y":430},{"s":3,"x":75,"y":458},{"s":3,"x":77,"y":420},{"s":3,"x":80,"y":400},{"s":3,"x":83,"y":415},{"s":3,"x":86,"y":440},{"s":3,"x":87,"y":467},{"s":3,"x":89,"y":420},{"s":3,"x":92,"y":405},{"s":3,"x":95,"y":400},{"s":3,"x":97,"y":410},{"s":3,"x":99,"y":460},{"s":3,"x":100,"y":480},{"s":3,"x":101,"y":492},{"s":3,"x":102,"y":450},{"s":3,"x":104,"y":410},{"s":3,"x":107,"y":405},{"s":3,"x":110,"y":420},{"s":3,"x":113,"y":410},{"s":3,"x":116,"y":434},{"s":3,"x":119,"y":410},{"s":3,"x":122,"y":420},{"s":3,"x":123,"y":458},{"s":3,"x":124,"y":504},{"s":3,"x":125,"y":579},{"s":3,"x":126,"y":598},{"s":3,"x":127,"y":583},{"s":3,"x":128,"y":533},{"s":3,"x":129,"y":480},{"s":3,"x":130,"y":440},{"s":3,"x":132,"y":410},{"s":3,"x":135,"y":420},{"s":3,"x":138,"y":405},{"s":3,"x":141,"y":415},{"s":3,"x":144,"y":400},{"s":3,"x":147,"y":410},{"s":3,"x":150,"y":405},{"s":3,"x":152,"y":420},{"s":3,"x":153,"y":458},{"s":3,"x":154,"y":542},{"s":3,"x":155,"y":525},{"s":3,"x":156,"y":480},{"s":3,"x":157,"y":440},{"s":3,"x":159,"y":420},{"s":3,"x":162,"y":410},{"s":3,"x":165,"y":400},{"s":3,"x":168,"y":410},{"s":3,"x":171,"y":400},{"s":3,"x":173,"y":410},{"s":3,"x":174,"y":417},{"s":3,"x":175,"y":460},{"s":3,"x":176,"y":496},{"s":3,"x":177,"y":470},{"s":3,"x":178,"y":442},{"s":3,"x":180,"y":420},{"s":3,"x":182,"y":415},{"s":3,"x":184,"y":471},{"s":3,"x":185,"y":510},{"s":3,"x":186,"y":548},{"s":3,"x":187,"y":533},{"s":3,"x":188,"y":480},{"s":3,"x":189,"y":440},{"s":3,"x":191,"y":420},{"s":3,"x":194,"y":410},{"s":3,"x":197,"y":400},{"s":3,"x":199,"y":395},{"s":3,"x":201,"y":390},
{"s":8,"x":1,"y":405},{"s":8,"x":3,"y":440},{"s":8,"x":5,"y":420},{"s":8,"x":7,"y":405},{"s":8,"x":9,"y":400},{"s":8,"x":10,"y":368},{"s":8,"x":11,"y":309},{"s":8,"x":12,"y":352},{"s":8,"x":13,"y":372},{"s":8,"x":14,"y":374},{"s":8,"x":15,"y":340},{"s":8,"x":16,"y":300},{"s":8,"x":17,"y":355},{"s":8,"x":18,"y":380},{"s":8,"x":19,"y":359},{"s":8,"x":20,"y":345},{"s":8,"x":21,"y":334},{"s":8,"x":22,"y":320},{"s":8,"x":23,"y":297},{"s":8,"x":24,"y":327},{"s":8,"x":25,"y":376},{"s":8,"x":27,"y":400},{"s":8,"x":30,"y":415},{"s":8,"x":33,"y":400},{"s":8,"x":36,"y":410},{"s":8,"x":39,"y":395},{"s":8,"x":42,"y":410},{"s":8,"x":45,"y":400},{"s":8,"x":48,"y":375},{"s":8,"x":50,"y":350},{"s":8,"x":51,"y":345},{"s":8,"x":52,"y":330},{"s":8,"x":53,"y":380},{"s":8,"x":55,"y":410},{"s":8,"x":58,"y":400},{"s":8,"x":61,"y":420},{"s":8,"x":64,"y":400},{"s":8,"x":67,"y":410},{"s":8,"x":70,"y":395},{"s":8,"x":73,"y":410},{"s":8,"x":76,"y":400},{"s":8,"x":79,"y":410},{"s":8,"x":82,"y":390},{"s":8,"x":84,"y":364},{"s":8,"x":86,"y":380},{"s":8,"x":88,"y":395},{"s":8,"x":91,"y":410},{"s":8,"x":94,"y":395},{"s":8,"x":97,"y":352},{"s":8,"x":99,"y":380},{"s":8,"x":102,"y":400},{"s":8,"x":105,"y":410},{"s":8,"x":108,"y":400},{"s":8,"x":110,"y":395},{"s":8,"x":112,"y":359},{"s":8,"x":114,"y":297},{"s":8,"x":115,"y":266},{"s":8,"x":116,"y":355},{"s":8,"x":117,"y":410},{"s":8,"x":119,"y":400},{"s":8,"x":121,"y":405},{"s":8,"x":123,"y":400},{"s":8,"x":124,"y":347},{"s":8,"x":125,"y":300},{"s":8,"x":126,"y":285},{"s":8,"x":127,"y":278},{"s":8,"x":128,"y":327},{"s":8,"x":130,"y":376},{"s":8,"x":132,"y":400},{"s":8,"x":135,"y":410},{"s":8,"x":138,"y":395},{"s":8,"x":140,"y":380},{"s":8,"x":141,"y":352},{"s":8,"x":142,"y":320},{"s":8,"x":143,"y":302},{"s":8,"x":144,"y":274},{"s":8,"x":145,"y":302},{"s":8,"x":146,"y":352},{"s":8,"x":148,"y":390},{"s":8,"x":151,"y":405},{"s":8,"x":154,"y":395},{"s":8,"x":157,"y":400},{"s":8,"x":160,"y":390},{"s":8,"x":163,"y":355},{"s":8,"x":165,"y":343},{"s":8,"x":167,"y":370},{"s":8,"x":168,"y":330},{"s":8,"x":169,"y":289},{"s":8,"x":170,"y":334},{"s":8,"x":172,"y":350},{"s":8,"x":174,"y":343},{"s":8,"x":176,"y":380},{"s":8,"x":179,"y":395},{"s":8,"x":182,"y":390},{"s":8,"x":184,"y":355},{"s":8,"x":185,"y":320},{"s":8,"x":186,"y":297},{"s":8,"x":187,"y":308},{"s":8,"x":189,"y":368},{"s":8,"x":190,"y":393},{"s":8,"x":193,"y":405},{"s":8,"x":196,"y":400},{"s":8,"x":199,"y":390},{"s":8,"x":201,"y":385},
{"s":1,"x":1,"y":410},{"s":1,"x":3,"y":430},{"s":1,"x":5,"y":425},{"s":1,"x":8,"y":410},{"s":1,"x":11,"y":400},{"s":1,"x":14,"y":395},{"s":1,"x":17,"y":405},{"s":1,"x":20,"y":400},{"s":1,"x":23,"y":415},{"s":1,"x":26,"y":405},{"s":1,"x":29,"y":420},{"s":1,"x":32,"y":410},{"s":1,"x":35,"y":395},{"s":1,"x":38,"y":405},{"s":1,"x":41,"y":415},{"s":1,"x":44,"y":400},{"s":1,"x":47,"y":395},{"s":1,"x":50,"y":390},{"s":1,"x":53,"y":405},{"s":1,"x":56,"y":415},{"s":1,"x":59,"y":410},{"s":1,"x":62,"y":420},{"s":1,"x":65,"y":410},{"s":1,"x":68,"y":400},{"s":1,"x":71,"y":410},{"s":1,"x":74,"y":420},{"s":1,"x":77,"y":405},{"s":1,"x":80,"y":395},{"s":1,"x":83,"y":400},{"s":1,"x":86,"y":410},{"s":1,"x":89,"y":400},{"s":1,"x":92,"y":415},{"s":1,"x":95,"y":405},{"s":1,"x":98,"y":395},{"s":1,"x":101,"y":405},{"s":1,"x":104,"y":415},{"s":1,"x":107,"y":410},{"s":1,"x":110,"y":400},{"s":1,"x":113,"y":390},{"s":1,"x":116,"y":395},{"s":1,"x":119,"y":405},{"s":1,"x":122,"y":400},{"s":1,"x":125,"y":410},{"s":1,"x":128,"y":405},{"s":1,"x":131,"y":395},{"s":1,"x":134,"y":405},{"s":1,"x":137,"y":395},{"s":1,"x":140,"y":400},{"s":1,"x":143,"y":390},{"s":1,"x":146,"y":385},{"s":1,"x":149,"y":395},{"s":1,"x":152,"y":405},{"s":1,"x":155,"y":410},{"s":1,"x":158,"y":420},{"s":1,"x":161,"y":405},{"s":1,"x":164,"y":395},{"s":1,"x":167,"y":385},{"s":1,"x":170,"y":390},{"s":1,"x":173,"y":400},{"s":1,"x":176,"y":410},{"s":1,"x":179,"y":405},{"s":1,"x":182,"y":395},{"s":1,"x":185,"y":400},{"s":1,"x":188,"y":410},{"s":1,"x":191,"y":400},{"s":1,"x":194,"y":410},{"s":1,"x":197,"y":405},{"s":1,"x":199,"y":395},{"s":1,"x":201,"y":390},
{"s":12,"x":1,"y":401},{"s":12,"x":4,"y":385},{"s":12,"x":7,"y":376},{"s":12,"x":9,"y":368},{"s":12,"x":12,"y":375},{"s":12,"x":15,"y":380},{"s":12,"x":18,"y":392},{"s":12,"x":21,"y":395},{"s":12,"x":24,"y":385},{"s":12,"x":27,"y":382},{"s":12,"x":30,"y":388},{"s":12,"x":33,"y":375},{"s":12,"x":36,"y":371},{"s":12,"x":39,"y":362},{"s":12,"x":42,"y":375},{"s":12,"x":44,"y":380},{"s":12,"x":46,"y":370},{"s":12,"x":48,"y":362},{"s":12,"x":50,"y":358},{"s":12,"x":53,"y":372},{"s":12,"x":56,"y":390},{"s":12,"x":59,"y":395},{"s":12,"x":62,"y":392},{"s":12,"x":65,"y":389},{"s":12,"x":68,"y":382},{"s":12,"x":70,"y":378},{"s":12,"x":73,"y":376},{"s":12,"x":76,"y":378},{"s":12,"x":79,"y":380},{"s":12,"x":82,"y":378},{"s":12,"x":85,"y":376},{"s":12,"x":88,"y":370},{"s":12,"x":91,"y":365},{"s":12,"x":94,"y":359},{"s":12,"x":96,"y":355},{"s":12,"x":98,"y":352},{"s":12,"x":100,"y":360},{"s":12,"x":101,"y":347},{"s":12,"x":103,"y":380},{"s":12,"x":106,"y":385},{"s":12,"x":108,"y":384},{"s":12,"x":111,"y":371},{"s":12,"x":113,"y":360},{"s":12,"x":116,"y":365},{"s":12,"x":119,"y":378},{"s":12,"x":122,"y":385},{"s":12,"x":125,"y":380},{"s":12,"x":128,"y":372},{"s":12,"x":131,"y":378},{"s":12,"x":134,"y":385},{"s":12,"x":137,"y":380},{"s":12,"x":140,"y":375},{"s":12,"x":143,"y":370},{"s":12,"x":146,"y":378},{"s":12,"x":149,"y":380},{"s":12,"x":151,"y":370},{"s":12,"x":153,"y":355},{"s":12,"x":155,"y":340},{"s":12,"x":156,"y":330},{"s":12,"x":158,"y":350},{"s":12,"x":160,"y":380},{"s":12,"x":162,"y":392},{"s":12,"x":165,"y":390},{"s":12,"x":168,"y":385},{"s":12,"x":171,"y":380},{"s":12,"x":174,"y":385},{"s":12,"x":177,"y":375},{"s":12,"x":180,"y":376},{"s":12,"x":182,"y":370},{"s":12,"x":184,"y":360},{"s":12,"x":186,"y":340},{"s":12,"x":188,"y":360},{"s":12,"x":190,"y":393},{"s":12,"x":193,"y":392},{"s":12,"x":196,"y":390},{"s":12,"x":198,"y":385},{"s":12,"x":201,"y":378}
],
"p3": [
{"s":5,"x":1,"y":418},{"s":5,"x":6,"y":442},{"s":5,"x":11,"y":440},{"s":5,"x":16,"y":439},{"s":5,"x":21,"y":441},{"s":5,"x":26,"y":432},{"s":5,"x":31,"y":438},{"s":5,"x":36,"y":431},{"s":5,"x":41,"y":435},{"s":5,"x":46,"y":440},{"s":5,"x":51,"y":441},{"s":5,"x":56,"y":436},{"s":5,"x":61,"y":432},{"s":5,"x":66,"y":430},{"s":5,"x":71,"y":435},{"s":5,"x":76,"y":434},{"s":5,"x":81,"y":443},{"s":5,"x":86,"y":435},{"s":5,"x":91,"y":441},{"s":5,"x":96,"y":434},{"s":5,"x":101,"y":432},{"s":5,"x":106,"y":440},{"s":5,"x":111,"y":442},{"s":5,"x":116,"y":429},{"s":5,"x":121,"y":433},{"s":5,"x":126,"y":441},{"s":5,"x":131,"y":438},{"s":5,"x":136,"y":432},{"s":5,"x":141,"y":438},{"s":5,"x":146,"y":440},{"s":5,"x":151,"y":443},{"s":5,"x":156,"y":440},{"s":5,"x":161,"y":434},{"s":5,"x":166,"y":440},{"s":5,"x":171,"y":436},{"s":5,"x":176,"y":433},{"s":5,"x":181,"y":441},{"s":5,"x":186,"y":438},{"s":5,"x":191,"y":434},{"s":5,"x":196,"y":440},{"s":5,"x":201,"y":433},
{"s":6,"x":1,"y":414},{"s":6,"x":6,"y":436},{"s":6,"x":11,"y":434},{"s":6,"x":16,"y":433},{"s":6,"x":21,"y":435},{"s":6,"x":26,"y":426},{"s":6,"x":31,"y":432},{"s":6,"x":36,"y":425},{"s":6,"x":41,"y":429},{"s":6,"x":46,"y":434},{"s":6,"x":51,"y":435},{"s":6,"x":56,"y":430},{"s":6,"x":61,"y":426},{"s":6,"x":66,"y":424},{"s":6,"x":71,"y":429},{"s":6,"x":76,"y":428},{"s":6,"x":81,"y":437},{"s":6,"x":86,"y":429},{"s":6,"x":91,"y":435},{"s":6,"x":96,"y":428},{"s":6,"x":101,"y":426},{"s":6,"x":106,"y":434},{"s":6,"x":111,"y":436},{"s":6,"x":116,"y":423},{"s":6,"x":121,"y":427},{"s":6,"x":126,"y":435},{"s":6,"x":131,"y":432},{"s":6,"x":136,"y":426},{"s":6,"x":141,"y":432},{"s":6,"x":146,"y":434},{"s":6,"x":151,"y":437},{"s":6,"x":156,"y":434},{"s":6,"x":161,"y":428},{"s":6,"x":166,"y":434},{"s":6,"x":171,"y":430},{"s":6,"x":176,"y":427},{"s":6,"x":181,"y":435},{"s":6,"x":186,"y":432},{"s":6,"x":191,"y":428},{"s":6,"x":196,"y":434},{"s":6,"x":201,"y":427},
{"s":7,"x":1,"y":410},{"s":7,"x":6,"y":432},{"s":7,"x":11,"y":429},{"s":7,"x":16,"y":428},{"s":7,"x":21,"y":431},{"s":7,"x":26,"y":420},{"s":7,"x":31,"y":427},{"s":7,"x":36,"y":419},{"s":7,"x":41,"y":423},{"s":7,"x":46,"y":429},{"s":7,"x":51,"y":431},{"s":7,"x":56,"y":425},{"s":7,"x":61,"y":420},{"s":7,"x":66,"y":417},{"s":7,"x":71,"y":423},{"s":7,"x":76,"y":422},{"s":7,"x":81,"y":433},{"s":7,"x":86,"y":423},{"s":7,"x":91,"y":431},{"s":7,"x":96,"y":422},{"s":7,"x":101,"y":420},{"s":7,"x":106,"y":429},{"s":7,"x":111,"y":432},{"s":7,"x":116,"y":416},{"s":7,"x":121,"y":421},{"s":7,"x":126,"y":431},{"s":7,"x":131,"y":427},{"s":7,"x":136,"y":420},{"s":7,"x":141,"y":427},{"s":7,"x":146,"y":429},{"s":7,"x":151,"y":433},{"s":7,"x":156,"y":429},{"s":7,"x":161,"y":422},{"s":7,"x":166,"y":429},{"s":7,"x":171,"y":425},{"s":7,"x":176,"y":421},{"s":7,"x":181,"y":431},{"s":7,"x":186,"y":427},{"s":7,"x":191,"y":422},{"s":7,"x":196,"y":429},{"s":7,"x":201,"y":421},
{"s":11,"x":1,"y":405},{"s":11,"x":6,"y":426},{"s":11,"x":11,"y":424},{"s":11,"x":16,"y":422},{"s":11,"x":21,"y":425},{"s":11,"x":26,"y":413},{"s":11,"x":31,"y":421},{"s":11,"x":36,"y":412},{"s":11,"x":41,"y":417},{"s":11,"x":46,"y":424},{"s":11,"x":51,"y":425},{"s":11,"x":56,"y":418},{"s":11,"x":61,"y":413},{"s":11,"x":66,"y":411},{"s":11,"x":71,"y":417},{"s":11,"x":76,"y":416},{"s":11,"x":81,"y":428},{"s":11,"x":86,"y":417},{"s":11,"x":91,"y":425},{"s":11,"x":96,"y":416},{"s":11,"x":101,"y":413},{"s":11,"x":106,"y":424},{"s":11,"x":111,"y":426},{"s":11,"x":116,"y":409},{"s":11,"x":121,"y":414},{"s":11,"x":126,"y":425},{"s":11,"x":131,"y":421},{"s":11,"x":136,"y":413},{"s":11,"x":141,"y":421},{"s":11,"x":146,"y":424},{"s":11,"x":151,"y":428},{"s":11,"x":156,"y":424},{"s":11,"x":161,"y":416},{"s":11,"x":166,"y":424},{"s":11,"x":171,"y":418},{"s":11,"x":176,"y":414},{"s":11,"x":181,"y":425},{"s":11,"x":186,"y":421},{"s":11,"x":191,"y":416},{"s":11,"x":196,"y":424},{"s":11,"x":201,"y":414},
{"s":4,"x":1,"y":400},{"s":4,"x":6,"y":422},{"s":4,"x":11,"y":419},{"s":4,"x":16,"y":418},{"s":4,"x":21,"y":421},{"s":4,"x":26,"y":407},{"s":4,"x":31,"y":416},{"s":4,"x":36,"y":406},{"s":4,"x":41,"y":412},{"s":4,"x":46,"y":419},{"s":4,"x":51,"y":421},{"s":4,"x":56,"y":413},{"s":4,"x":61,"y":407},{"s":4,"x":66,"y":404},{"s":4,"x":71,"y":412},{"s":4,"x":76,"y":410},{"s":4,"x":81,"y":424},{"s":4,"x":86,"y":412},{"s":4,"x":91,"y":421},{"s":4,"x":96,"y":410},{"s":4,"x":101,"y":407},{"s":4,"x":106,"y":419},{"s":4,"x":111,"y":422},{"s":4,"x":116,"y":403},{"s":4,"x":121,"y":409},{"s":4,"x":126,"y":421},{"s":4,"x":131,"y":416},{"s":4,"x":136,"y":407},{"s":4,"x":141,"y":416},{"s":4,"x":146,"y":419},{"s":4,"x":151,"y":424},{"s":4,"x":156,"y":419},{"s":4,"x":161,"y":410},{"s":4,"x":166,"y":419},{"s":4,"x":171,"y":413},{"s":4,"x":176,"y":409},{"s":4,"x":181,"y":421},{"s":4,"x":186,"y":416},{"s":4,"x":191,"y":410},{"s":4,"x":196,"y":419},{"s":4,"x":201,"y":409},
{"s":10,"x":1,"y":396},{"s":10,"x":6,"y":416},{"s":10,"x":11,"y":413},{"s":10,"x":16,"y":412},{"s":10,"x":21,"y":415},{"s":10,"x":26,"y":401},{"s":10,"x":31,"y":410},{"s":10,"x":36,"y":400},{"s":10,"x":41,"y":406},{"s":10,"x":46,"y":413},{"s":10,"x":51,"y":415},{"s":10,"x":56,"y":407},{"s":10,"x":61,"y":401},{"s":10,"x":66,"y":398},{"s":10,"x":71,"y":406},{"s":10,"x":76,"y":404},{"s":10,"x":81,"y":418},{"s":10,"x":86,"y":406},{"s":10,"x":91,"y":415},{"s":10,"x":96,"y":404},{"s":10,"x":101,"y":401},{"s":10,"x":106,"y":413},{"s":10,"x":111,"y":416},{"s":10,"x":116,"y":397},{"s":10,"x":121,"y":403},{"s":10,"x":126,"y":415},{"s":10,"x":131,"y":410},{"s":10,"x":136,"y":401},{"s":10,"x":141,"y":410},{"s":10,"x":146,"y":413},{"s":10,"x":151,"y":418},{"s":10,"x":156,"y":413},{"s":10,"x":161,"y":404},{"s":10,"x":166,"y":413},{"s":10,"x":171,"y":407},{"s":10,"x":176,"y":403},{"s":10,"x":181,"y":415},{"s":10,"x":186,"y":410},{"s":10,"x":191,"y":404},{"s":10,"x":196,"y":413},{"s":10,"x":201,"y":403},
{"s":2,"x":1,"y":420},{"s":2,"x":6,"y":448},{"s":2,"x":11,"y":447},{"s":2,"x":16,"y":447},{"s":2,"x":21,"y":448},{"s":2,"x":26,"y":442},{"s":2,"x":31,"y":446},{"s":2,"x":36,"y":442},{"s":2,"x":41,"y":444},{"s":2,"x":46,"y":447},{"s":2,"x":51,"y":448},{"s":2,"x":56,"y":445},{"s":2,"x":61,"y":442},{"s":2,"x":66,"y":441},{"s":2,"x":71,"y":444},{"s":2,"x":76,"y":444},{"s":2,"x":81,"y":449},{"s":2,"x":86,"y":444},{"s":2,"x":91,"y":448},{"s":2,"x":96,"y":444},{"s":2,"x":101,"y":442},{"s":2,"x":106,"y":447},{"s":2,"x":111,"y":448},{"s":2,"x":116,"y":441},{"s":2,"x":121,"y":443},{"s":2,"x":126,"y":448},{"s":2,"x":131,"y":446},{"s":2,"x":136,"y":442},{"s":2,"x":141,"y":446},{"s":2,"x":146,"y":447},{"s":2,"x":151,"y":449},{"s":2,"x":156,"y":447},{"s":2,"x":161,"y":444},{"s":2,"x":166,"y":447},{"s":2,"x":171,"y":445},{"s":2,"x":176,"y":443},{"s":2,"x":181,"y":448},{"s":2,"x":186,"y":446},{"s":2,"x":191,"y":444},{"s":2,"x":196,"y":447},{"s":2,"x":201,"y":443},
{"s":9,"x":1,"y":445},{"s":9,"x":4,"y":470},{"s":9,"x":11,"y":470},{"s":9,"x":21,"y":469},{"s":9,"x":31,"y":469},{"s":9,"x":41,"y":468},{"s":9,"x":51,"y":468},{"s":9,"x":61,"y":467},{"s":9,"x":71,"y":467},{"s":9,"x":81,"y":469},{"s":9,"x":91,"y":468},{"s":9,"x":101,"y":468},{"s":9,"x":111,"y":469},{"s":9,"x":121,"y":467},{"s":9,"x":131,"y":468},{"s":9,"x":141,"y":467},{"s":9,"x":151,"y":468},{"s":9,"x":161,"y":467},{"s":9,"x":171,"y":468},{"s":9,"x":181,"y":468},{"s":9,"x":191,"y":467},{"s":9,"x":201,"y":466},
{"s":14,"x":1,"y":440},{"s":14,"x":4,"y":463},{"s":14,"x":11,"y":462},{"s":14,"x":21,"y":462},{"s":14,"x":31,"y":461},{"s":14,"x":41,"y":460},{"s":14,"x":51,"y":461},{"s":14,"x":61,"y":459},{"s":14,"x":71,"y":459},{"s":14,"x":81,"y":462},{"s":14,"x":91,"y":461},{"s":14,"x":101,"y":460},{"s":14,"x":111,"y":461},{"s":14,"x":121,"y":459},{"s":14,"x":131,"y":461},{"s":14,"x":141,"y":460},{"s":14,"x":151,"y":462},{"s":14,"x":161,"y":460},{"s":14,"x":171,"y":461},{"s":14,"x":181,"y":461},{"s":14,"x":191,"y":460},{"s":14,"x":201,"y":459},
{"s":13,"x":1,"y":430},{"s":13,"x":4,"y":458},{"s":13,"x":11,"y":458},{"s":13,"x":21,"y":457},{"s":13,"x":31,"y":457},{"s":13,"x":41,"y":455},{"s":13,"x":51,"y":456},{"s":13,"x":61,"y":454},{"s":13,"x":71,"y":455},{"s":13,"x":81,"y":458},{"s":13,"x":91,"y":457},{"s":13,"x":101,"y":455},{"s":13,"x":111,"y":456},{"s":13,"x":121,"y":453},{"s":13,"x":131,"y":457},{"s":13,"x":141,"y":456},{"s":13,"x":151,"y":458},{"s":13,"x":161,"y":455},{"s":13,"x":171,"y":457},{"s":13,"x":181,"y":456},{"s":13,"x":191,"y":456},{"s":13,"x":201,"y":454},
{"s":3,"x":1,"y":400},{"s":3,"x":2,"y":602},{"s":3,"x":3,"y":518},{"s":3,"x":4,"y":445},{"s":3,"x":6,"y":430},{"s":3,"x":9,"y":420},{"s":3,"x":12,"y":425},{"s":3,"x":15,"y":410},{"s":3,"x":18,"y":420},{"s":3,"x":21,"y":415},{"s":3,"x":24,"y":425},{"s":3,"x":27,"y":405},{"s":3,"x":30,"y":415},{"s":3,"x":33,"y":400},{"s":3,"x":36,"y":410},{"s":3,"x":38,"y":430},{"s":3,"x":39,"y":460},{"s":3,"x":40,"y":481},{"s":3,"x":41,"y":493},{"s":3,"x":42,"y":440},{"s":3,"x":43,"y":400},{"s":3,"x":45,"y":395},{"s":3,"x":48,"y":410},{"s":3,"x":51,"y":420},{"s":3,"x":54,"y":405},{"s":3,"x":57,"y":400},{"s":3,"x":60,"y":410},{"s":3,"x":63,"y":405},{"s":3,"x":66,"y":395},{"s":3,"x":69,"y":410},{"s":3,"x":71,"y":420},{"s":3,"x":72,"y":440},{"s":3,"x":73,"y":450},{"s":3,"x":74,"y":415},{"s":3,"x":75,"y":430},{"s":3,"x":76,"y":453},{"s":3,"x":77,"y":420},{"s":3,"x":80,"y":410},{"s":3,"x":83,"y":420},{"s":3,"x":86,"y":405},{"s":3,"x":89,"y":415},{"s":3,"x":92,"y":420},{"s":3,"x":95,"y":400},{"s":3,"x":98,"y":405},{"s":3,"x":101,"y":395},{"s":3,"x":104,"y":410},{"s":3,"x":107,"y":420},{"s":3,"x":110,"y":405},{"s":3,"x":112,"y":370},{"s":3,"x":113,"y":345},{"s":3,"x":115,"y":308},{"s":3,"x":116,"y":288},{"s":3,"x":118,"y":273},{"s":3,"x":119,"y":313},{"s":3,"x":120,"y":379},{"s":3,"x":121,"y":462},{"s":3,"x":122,"y":518},{"s":3,"x":123,"y":524},{"s":3,"x":124,"y":475},{"s":3,"x":125,"y":379},{"s":3,"x":126,"y":370},{"s":3,"x":127,"y":420},{"s":3,"x":128,"y":470},{"s":3,"x":129,"y":503},{"s":3,"x":130,"y":437},{"s":3,"x":131,"y":400},{"s":3,"x":133,"y":380},{"s":3,"x":135,"y":338},{"s":3,"x":137,"y":294},{"s":3,"x":138,"y":354},{"s":3,"x":139,"y":395},{"s":3,"x":141,"y":450},{"s":3,"x":142,"y":500},{"s":3,"x":143,"y":499},{"s":3,"x":144,"y":462},{"s":3,"x":145,"y":481},{"s":3,"x":146,"y":470},{"s":3,"x":148,"y":445},{"s":3,"x":150,"y":430},{"s":3,"x":153,"y":420},{"s":3,"x":156,"y":410},{"s":3,"x":159,"y":420},{"s":3,"x":162,"y":405},{"s":3,"x":165,"y":415},{"s":3,"x":168,"y":410},{"s":3,"x":171,"y":400},{"s":3,"x":174,"y":410},{"s":3,"x":176,"y":428},{"s":3,"x":178,"y":472},{"s":3,"x":179,"y":460},{"s":3,"x":180,"y":450},{"s":3,"x":182,"y":420},{"s":3,"x":185,"y":410},{"s":3,"x":188,"y":400},{"s":3,"x":191,"y":415},{"s":3,"x":194,"y":405},{"s":3,"x":197,"y":378},{"s":3,"x":199,"y":437},{"s":3,"x":200,"y":366},{"s":3,"x":201,"y":380},
{"s":8,"x":1,"y":405},{"s":8,"x":3,"y":430},{"s":8,"x":5,"y":420},{"s":8,"x":8,"y":410},{"s":8,"x":11,"y":400},{"s":8,"x":14,"y":415},{"s":8,"x":17,"y":405},{"s":8,"x":20,"y":410},{"s":8,"x":23,"y":400},{"s":8,"x":26,"y":420},{"s":8,"x":28,"y":385},{"s":8,"x":30,"y":395},{"s":8,"x":33,"y":405},{"s":8,"x":35,"y":376},{"s":8,"x":38,"y":358},{"s":8,"x":40,"y":339},{"s":8,"x":41,"y":335},{"s":8,"x":42,"y":364},{"s":8,"x":43,"y":381},{"s":8,"x":46,"y":400},{"s":8,"x":49,"y":410},{"s":8,"x":52,"y":395},{"s":8,"x":55,"y":405},{"s":8,"x":58,"y":395},{"s":8,"x":61,"y":400},{"s":8,"x":64,"y":366},{"s":8,"x":66,"y":332},{"s":8,"x":67,"y":370},{"s":8,"x":69,"y":390},{"s":8,"x":70,"y":360},{"s":8,"x":72,"y":345},{"s":8,"x":73,"y":390},{"s":8,"x":74,"y":400},{"s":8,"x":76,"y":358},{"s":8,"x":78,"y":400},{"s":8,"x":81,"y":410},{"s":8,"x":84,"y":395},{"s":8,"x":87,"y":405},{"s":8,"x":90,"y":395},{"s":8,"x":93,"y":410},{"s":8,"x":96,"y":400},{"s":8,"x":99,"y":390},{"s":8,"x":102,"y":400},{"s":8,"x":105,"y":410},{"s":8,"x":108,"y":400},{"s":8,"x":111,"y":390},{"s":8,"x":114,"y":380},{"s":8,"x":117,"y":395},{"s":8,"x":120,"y":400},{"s":8,"x":121,"y":380},{"s":8,"x":122,"y":345},{"s":8,"x":123,"y":360},{"s":8,"x":125,"y":380},{"s":8,"x":127,"y":400},{"s":8,"x":128,"y":370},{"s":8,"x":129,"y":338},{"s":8,"x":131,"y":350},{"s":8,"x":132,"y":354},{"s":8,"x":133,"y":453},{"s":8,"x":134,"y":420},{"s":8,"x":136,"y":400},{"s":8,"x":138,"y":390},{"s":8,"x":140,"y":370},{"s":8,"x":142,"y":327},{"s":8,"x":144,"y":327},{"s":8,"x":145,"y":345},{"s":8,"x":146,"y":354},{"s":8,"x":147,"y":379},{"s":8,"x":149,"y":420},{"s":8,"x":152,"y":410},{"s":8,"x":155,"y":400},{"s":8,"x":158,"y":410},{"s":8,"x":161,"y":395},{"s":8,"x":164,"y":405},{"s":8,"x":167,"y":395},{"s":8,"x":170,"y":400},{"s":8,"x":172,"y":388},{"s":8,"x":174,"y":344},{"s":8,"x":176,"y":390},{"s":8,"x":178,"y":363},{"s":8,"x":180,"y":395},{"s":8,"x":183,"y":410},{"s":8,"x":186,"y":400},{"s":8,"x":189,"y":410},{"s":8,"x":192,"y":395},{"s":8,"x":195,"y":400},{"s":8,"x":197,"y":378},{"s":8,"x":199,"y":366},{"s":8,"x":201,"y":370},
{"s":1,"x":1,"y":410},{"s":1,"x":3,"y":440},{"s":1,"x":5,"y":430},{"s":1,"x":8,"y":420},{"s":1,"x":11,"y":410},{"s":1,"x":14,"y":415},{"s":1,"x":17,"y":405},{"s":1,"x":20,"y":415},{"s":1,"x":23,"y":410},{"s":1,"x":25,"y":425},{"s":1,"x":27,"y":395},{"s":1,"x":29,"y":385},{"s":1,"x":31,"y":395},{"s":1,"x":34,"y":380},{"s":1,"x":37,"y":390},{"s":1,"x":40,"y":400},{"s":1,"x":43,"y":395},{"s":1,"x":46,"y":405},{"s":1,"x":49,"y":400},{"s":1,"x":52,"y":410},{"s":1,"x":55,"y":395},{"s":1,"x":58,"y":390},{"s":1,"x":61,"y":395},{"s":1,"x":64,"y":385},{"s":1,"x":67,"y":390},{"s":1,"x":70,"y":380},{"s":1,"x":73,"y":395},{"s":1,"x":76,"y":385},{"s":1,"x":79,"y":400},{"s":1,"x":82,"y":410},{"s":1,"x":85,"y":395},{"s":1,"x":88,"y":400},{"s":1,"x":91,"y":410},{"s":1,"x":94,"y":395},{"s":1,"x":97,"y":390},{"s":1,"x":100,"y":385},{"s":1,"x":103,"y":400},{"s":1,"x":106,"y":410},{"s":1,"x":109,"y":405},{"s":1,"x":112,"y":395},{"s":1,"x":115,"y":380},{"s":1,"x":118,"y":372},{"s":1,"x":120,"y":370},{"s":1,"x":122,"y":395},{"s":1,"x":125,"y":400},{"s":1,"x":128,"y":395},{"s":1,"x":131,"y":405},{"s":1,"x":134,"y":395},{"s":1,"x":137,"y":385},{"s":1,"x":140,"y":400},{"s":1,"x":143,"y":410},{"s":1,"x":146,"y":400},{"s":1,"x":149,"y":410},{"s":1,"x":152,"y":405},{"s":1,"x":155,"y":400},{"s":1,"x":158,"y":410},{"s":1,"x":161,"y":395},{"s":1,"x":164,"y":400},{"s":1,"x":167,"y":405},{"s":1,"x":170,"y":395},{"s":1,"x":173,"y":390},{"s":1,"x":176,"y":400},{"s":1,"x":179,"y":405},{"s":1,"x":182,"y":410},{"s":1,"x":185,"y":400},{"s":1,"x":188,"y":405},{"s":1,"x":191,"y":395},{"s":1,"x":194,"y":400},{"s":1,"x":197,"y":390},{"s":1,"x":199,"y":385},{"s":1,"x":201,"y":390},
{"s":12,"x":1,"y":400},{"s":12,"x":4,"y":410},{"s":12,"x":7,"y":408},{"s":12,"x":10,"y":395},{"s":12,"x":13,"y":405},{"s":12,"x":16,"y":400},{"s":12,"x":19,"y":398},{"s":12,"x":22,"y":402},{"s":12,"x":25,"y":395},{"s":12,"x":28,"y":382},{"s":12,"x":31,"y":390},{"s":12,"x":34,"y":385},{"s":12,"x":36,"y":370},{"s":12,"x":38,"y":364},{"s":12,"x":40,"y":375},{"s":12,"x":42,"y":380},{"s":12,"x":45,"y":392},{"s":12,"x":48,"y":398},{"s":12,"x":51,"y":402},{"s":12,"x":54,"y":390},{"s":12,"x":57,"y":385},{"s":12,"x":60,"y":388},{"s":12,"x":63,"y":375},{"s":12,"x":65,"y":380},{"s":12,"x":68,"y":385},{"s":12,"x":71,"y":383},{"s":12,"x":74,"y":378},{"s":12,"x":77,"y":370},{"s":12,"x":79,"y":392},{"s":12,"x":82,"y":400},{"s":12,"x":85,"y":395},{"s":12,"x":88,"y":385},{"s":12,"x":91,"y":398},{"s":12,"x":94,"y":390},{"s":12,"x":97,"y":380},{"s":12,"x":100,"y":385},{"s":12,"x":103,"y":392},{"s":12,"x":106,"y":400},{"s":12,"x":109,"y":395},{"s":12,"x":112,"y":385},{"s":12,"x":115,"y":375},{"s":12,"x":118,"y":370},{"s":12,"x":121,"y":372},{"s":12,"x":124,"y":380},{"s":12,"x":127,"y":385},{"s":12,"x":130,"y":380},{"s":12,"x":133,"y":370},{"s":12,"x":136,"y":375},{"s":12,"x":139,"y":385},{"s":12,"x":142,"y":390},{"s":12,"x":145,"y":400},{"s":12,"x":148,"y":395},{"s":12,"x":151,"y":402},{"s":12,"x":154,"y":395},{"s":12,"x":157,"y":398},{"s":12,"x":160,"y":390},{"s":12,"x":163,"y":392},{"s":12,"x":166,"y":398},{"s":12,"x":169,"y":390},{"s":12,"x":172,"y":388},{"s":12,"x":175,"y":380},{"s":12,"x":178,"y":392},{"s":12,"x":181,"y":398},{"s":12,"x":184,"y":400},{"s":12,"x":187,"y":392},{"s":12,"x":190,"y":395},{"s":12,"x":193,"y":388},{"s":12,"x":196,"y":385},{"s":12,"x":198,"y":372},{"s":12,"x":201,"y":362}
]
},
"vconcat": [
{
"width": 683, "height": 394,
"layer": [
{"data": {"name": "p1"},
"transform": [{"lookup": "s", "from": {"data": {"name": "names"}, "key": "s", "fields": ["n"]}}],
"mark": {"type": "line", "strokeWidth": 1.4, "point": {"filled": true, "size": 6}},
"encoding": {
"x": {"field": "x", "type": "quantitative", "title": null, "scale": {"domain": [1, 201], "nice": false, "zero": false}, "axis": {"values": [1, 51, 101, 151, 201], "labelFlush": false, "labelPadding": 6}},
"y": {"field": "y", "type": "quantitative", "title": null, "scale": {"domain": [200, 690], "nice": false, "zero": false}, "axis": {"values": [200, 300, 400, 500, 600], "labelPadding": 5}},
"color": {"field": "n", "type": "nominal", "scale": {"domain": ["소비계층 1","소비계층 2","도매계층 1","도매계층 2","도매계층 3","유통계층 1","유통계층 2","유통계층 3","생산계층 1","생산계층 2","생산계층 3","공급계층 1","공급계층 2","공급계층 3"], "range": ["#6b6b6b","#7d7d7d","#8e8e8e","#767676","#707070","#8a8a8a","#a8a8a8","#828282","#c8c8c8","#666666","#9c9c9c","#a0a0a0","#bcbcbc","#cccccc"]}, "legend": {"title": null, "orient": "none", "legendX": 781, "legendY": 19, "direction": "vertical", "labelFont": "Noto Sans CJK KR", "labelFontSize": 16, "labelColor": "#000", "symbolType": "M-2.45,0H2.45M-0.2,-0.2H0.2V0.2H-0.2Z", "symbolSize": 324, "symbolStrokeWidth": 1.5, "symbolFillColor": "#808080", "rowPadding": 4, "labelOffset": 19, "padding": 0}},
"strokeDash": {"field": "n", "type": "nominal", "scale": {"domain": ["소비계층 1","소비계층 2","도매계층 1","도매계층 2","도매계층 3","유통계층 1","유통계층 2","유통계층 3","생산계층 1","생산계층 2","생산계층 3","공급계층 1","공급계층 2","공급계층 3"], "range": [[1,0],[2,2],[1,0],[2,2],[4,3],[4,3],[2,2],[1,0],[2,2],[1,0],[4,3],[1,0],[2,2],[7,4]]}, "legend": {"title": null, "orient": "none", "legendX": 781, "legendY": 19, "direction": "vertical", "labelFont": "Noto Sans CJK KR", "labelFontSize": 16, "labelColor": "#000", "symbolType": "M-2.45,0H2.45M-0.2,-0.2H0.2V0.2H-0.2Z", "symbolSize": 324, "symbolStrokeWidth": 1.5, "symbolFillColor": "#808080", "rowPadding": 4, "labelOffset": 19, "padding": 0}}
}},
{"data": {"name": "solid"}, "mark": {"type": "rule", "color": "#000", "strokeWidth": 2.2}, "encoding": {"y": {"field": "v", "type": "quantitative"}}},
{"data": {"name": "dash"}, "mark": {"type": "rule", "color": "#000", "strokeWidth": 2, "strokeDash": [14, 6]}, "encoding": {"y": {"field": "v", "type": "quantitative"}}}
]
},
{
"width": 683, "height": 332,
"layer": [
{"data": {"name": "p2"},
"transform": [{"lookup": "s", "from": {"data": {"name": "names"}, "key": "s", "fields": ["n"]}}],
"mark": {"type": "line", "strokeWidth": 1.4, "point": {"filled": true, "size": 6}},
"encoding": {
"x": {"field": "x", "type": "quantitative", "title": null, "scale": {"domain": [1, 201], "nice": false, "zero": false}, "axis": {"values": [1, 51, 101, 151, 201], "labelFlush": false, "labelPadding": 6}},
"y": {"field": "y", "type": "quantitative", "title": null, "scale": {"domain": [200, 612], "nice": false, "zero": false}, "axis": {"values": [200, 300, 400, 500, 600], "labelPadding": 5}},
"color": {"field": "n", "type": "nominal", "scale": {"domain": ["소비계층 1","소비계층 2","도매계층 1","도매계층 2","도매계층 3","유통계층 1","유통계층 2","유통계층 3","생산계층 1","생산계층 2","생산계층 3","공급계층 1","공급계층 2","공급계층 3"], "range": ["#6b6b6b","#7d7d7d","#8e8e8e","#767676","#707070","#8a8a8a","#a8a8a8","#828282","#c8c8c8","#666666","#9c9c9c","#a0a0a0","#bcbcbc","#cccccc"]}, "legend": null},
"strokeDash": {"field": "n", "type": "nominal", "scale": {"domain": ["소비계층 1","소비계층 2","도매계층 1","도매계층 2","도매계층 3","유통계층 1","유통계층 2","유통계층 3","생산계층 1","생산계층 2","생산계층 3","공급계층 1","공급계층 2","공급계층 3"], "range": [[1,0],[2,2],[1,0],[2,2],[4,3],[4,3],[2,2],[1,0],[2,2],[1,0],[4,3],[1,0],[2,2],[7,4]]}, "legend": null}
}},
{"data": {"name": "solid"}, "mark": {"type": "rule", "color": "#000", "strokeWidth": 2.2}, "encoding": {"y": {"field": "v", "type": "quantitative"}}},
{"data": {"name": "dash"}, "mark": {"type": "rule", "color": "#000", "strokeWidth": 2, "strokeDash": [14, 6]}, "encoding": {"y": {"field": "v", "type": "quantitative"}}}
]
},
{
"width": 683, "height": 337,
"layer": [
{"data": {"name": "p3"},
"transform": [{"lookup": "s", "from": {"data": {"name": "names"}, "key": "s", "fields": ["n"]}}],
"mark": {"type": "line", "strokeWidth": 1.4, "point": {"filled": true, "size": 6}},
"encoding": {
"x": {"field": "x", "type": "quantitative", "title": null, "scale": {"domain": [1, 201], "nice": false, "zero": false}, "axis": {"values": [1, 51, 101, 151, 201], "labelFlush": false, "labelPadding": 6}},
"y": {"field": "y", "type": "quantitative", "title": null, "scale": {"domain": [200, 619], "nice": false, "zero": false}, "axis": {"values": [200, 300, 400, 500, 600], "labelPadding": 5}},
"color": {"field": "n", "type": "nominal", "scale": {"domain": ["소비계층 1","소비계층 2","도매계층 1","도매계층 2","도매계층 3","유통계층 1","유통계층 2","유통계층 3","생산계층 1","생산계층 2","생산계층 3","공급계층 1","공급계층 2","공급계층 3"], "range": ["#6b6b6b","#7d7d7d","#8e8e8e","#767676","#707070","#8a8a8a","#a8a8a8","#828282","#c8c8c8","#666666","#9c9c9c","#a0a0a0","#bcbcbc","#cccccc"]}, "legend": null},
"strokeDash": {"field": "n", "type": "nominal", "scale": {"domain": ["소비계층 1","소비계층 2","도매계층 1","도매계층 2","도매계층 3","유통계층 1","유통계층 2","유통계층 3","생산계층 1","생산계층 2","생산계층 3","공급계층 1","공급계층 2","공급계층 3"], "range": [[1,0],[2,2],[1,0],[2,2],[4,3],[4,3],[2,2],[1,0],[2,2],[1,0],[4,3],[1,0],[2,2],[7,4]]}, "legend": null}
}},
{"data": {"name": "solid"}, "mark": {"type": "rule", "color": "#000", "strokeWidth": 2.2}, "encoding": {"y": {"field": "v", "type": "quantitative"}}},
{"data": {"name": "dash"}, "mark": {"type": "rule", "color": "#000", "strokeWidth": 2, "strokeDash": [14, 6]}, "encoding": {"y": {"field": "v", "type": "quantitative"}}},
{"data": {"name": "box"}, "mark": {"type": "rect", "fill": "white", "stroke": "#000", "strokeWidth": 1.5}, "encoding": {"x": {"field": "a", "type": "quantitative"}, "x2": {"field": "b"}, "y": {"field": "c", "type": "quantitative"}, "y2": {"field": "d"}}},
{"data": {"name": "lab"}, "mark": {"type": "text", "font": "Noto Sans CJK KR", "fontSize": 20, "color": "#000"}, "encoding": {"x": {"field": "x", "type": "quantitative"}, "y": {"field": "y", "type": "quantitative"}, "text": {"field": "t"}}},
{"data": {"name": "arr"}, "mark": {"type": "rule", "color": "#000", "strokeWidth": 2.5}, "encoding": {"x": {"field": "x", "type": "quantitative"}, "y": {"field": "y", "type": "quantitative"}, "x2": {"field": "x2"}, "y2": {"field": "y2"}}},
{"data": {"name": "head"}, "mark": {"type": "point", "shape": "triangle-up", "angle": 308, "filled": true, "color": "#000", "size": 150, "opacity": 1}, "encoding": {"x": {"field": "x", "type": "quantitative"}, "y": {"field": "y", "type": "quantitative"}}}
]
}
],
"resolve": {"scale": {"color": "shared", "strokeDash": "shared"}}
}
